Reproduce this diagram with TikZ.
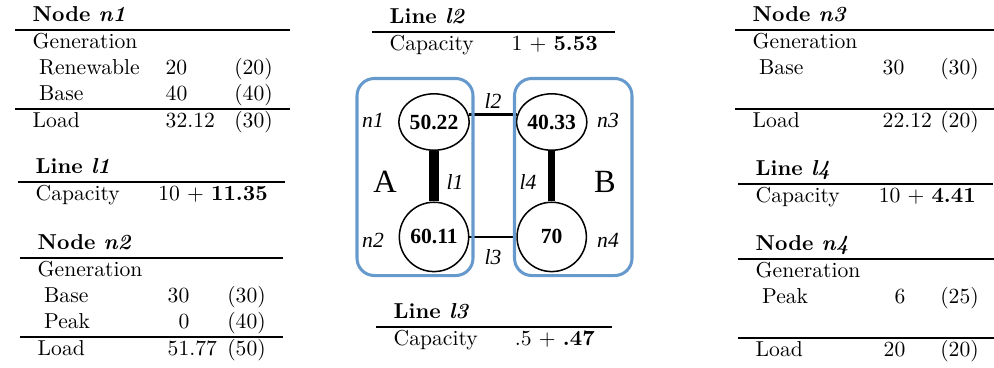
\documentclass[tikz,border=0pt]{standalone}
\usepackage{fontspec}
\usepackage{array}
\usetikzlibrary{positioning,shapes.geometric}
\newfontfamily\tnr{Liberation Serif}
\definecolor{grpblue}{HTML}{6699CC}
\newlength{\pu}\setlength{\pu}{0.463pt}
\newcolumntype{R}[1]{>{\raggedleft\arraybackslash}p{#1}}
\newcolumntype{L}[1]{>{\raggedright\arraybackslash}p{#1}}
\setlength{\arrayrulewidth}{0.6pt}
\newcommand{\ind}{\hspace*{3pt}}

\begin{document}
\begin{tikzpicture}[x=0.463pt, y=-0.463pt,
   tab/.style={anchor=north west,inner sep=0pt},
   topbus/.style={ellipse,draw,line width=0.7pt,minimum width=32.5pt,minimum height=26.1pt,inner sep=0pt,font=\tnr\bfseries},
   bus/.style={circle,draw,line width=0.7pt,minimum size=32.1pt,inner sep=0pt,font=\tnr\bfseries},
   lbl/.style={inner sep=0pt,font=\tnr\itshape},
   zone/.style={inner sep=0pt,font=\tnr\fontsize{15}{18}\selectfont},
   grp/.style={draw=grpblue,line width=1.4pt,rounded corners=8pt},
   tie/.style={line width=#1}]
  \useasboundingbox (0,0) rectangle (994,367);

  \node[tab] (tn1) at (15,3) {\begin{tabular}{@{\hspace{8pt}}L{133\pu}@{}L{55\pu}@{}R{52\pu}@{\hspace{8pt}}}
    \textbf{Node \textit{n1}} & & \\ \hline
    Generation & & \\
    \ind Renewable & 20 & (20) \\
    \ind Base & 40 & (40) \\ \hline
    Load & 32.12 & (30)
  \end{tabular}};
  \node[tab] (tl1) at (18,155) {\begin{tabular}{@{\hspace{8pt}}L{115\pu}@{}R{117\pu}@{\hspace{8pt}}}
    \textbf{Line \textit{l1}} & \\ \hline
    Capacity & 10 + \textbf{11.35}
  \end{tabular}};
  \node[tab] (tn2) at (20,231) {\begin{tabular}{@{\hspace{8pt}}L{130\pu}@{}L{50\pu}@{}R{48\pu}@{\hspace{8pt}}}
    \textbf{Node \textit{n2}} & & \\ \hline
    Generation & & \\
    \ind Base & 30 & (30) \\
    \ind Peak & \phantom{3}0 & (40) \\ \hline
    Load & 51.77 & (50)
  \end{tabular}};

  \node[tab] (tl2) at (372,5) {\begin{tabular}{@{\hspace{8pt}}L{119\pu}@{}R{89\pu}@{\hspace{8pt}}}
    \textbf{Line \textit{l2}} & \\ \hline
    Capacity & 1 + \textbf{5.53}
  \end{tabular}};
  \node[tab] (tl3) at (376,300) {\begin{tabular}{@{\hspace{8pt}}L{115\pu}@{}R{86\pu}@{\hspace{8pt}}}
    \textbf{Line \textit{l3}} & \\ \hline
    Capacity & .5 + \textbf{.47}
  \end{tabular}};

  \node[tab] (tn3) at (735,3) {\begin{tabular}{@{\hspace{8pt}}L{130\pu}@{}L{55\pu}@{}R{41\pu}@{\hspace{8pt}}}
    \textbf{Node \textit{n3}} & & \\ \hline
    Generation & & \\
    \ind Base & 30 & (30) \\
    & & \\ \hline
    Load & 22.12 & (20)
  \end{tabular}};
  \node[tab] (tl4) at (738,157) {\begin{tabular}{@{\hspace{8pt}}L{120\pu}@{}R{100\pu}@{\hspace{8pt}}}
    \textbf{Line \textit{l4}} & \\ \hline
    Capacity & 10 + \textbf{4.41}
  \end{tabular}};
  \node[tab] (tn4) at (738,232) {\begin{tabular}{@{\hspace{8pt}}L{128\pu}@{}L{55\pu}@{}R{40\pu}@{\hspace{8pt}}}
    \textbf{Node \textit{n4}} & & \\ \hline
    Generation & & \\
    \ind Peak & \phantom{0}6 & (25) \\
    & & \\ \hline
    Load & 20 & (20)
  \end{tabular}};

  \node[topbus] (n1) at (434,122) {50.22};
  \node[topbus,right=21.3pt of n1] (n3) {40.33};
  \node[bus,below=23.4pt of n1] (n2) {60.11};
  \node[bus,below=23.4pt of n3] (n4) {70};
  \draw[tie=4.6pt] (n1) -- (n2);
  \draw[tie=3.4pt] (n3) -- (n4);
  \draw[tie=1.5pt] (n1.12) -- (n3.168);
  \draw[tie=0.6pt] (n2) -- (n4);

  \node[lbl] (ln1) at (373,120) {n1};
  \node[lbl] (ln2) at (373,240) {n2};
  \node[lbl] (ln3) at (608,120) {n3};
  \node[lbl] (ln4) at (608,240) {n4};
  \node[lbl] (ll1) at (455,182) {l1};
  \node[lbl] (ll2) at (493,101) {l2};
  \node[lbl] (ll3) at (493,257) {l3};
  \node[lbl] (ll4) at (528,182) {l4};
  \node[zone] (za) at (385,182) {A};
  \node[zone] (zb) at (605,182) {B};

  \draw[grp] (357,78.5) rectangle (473,275.5);
  \draw[grp] (514.5,78.5) rectangle (632,275.5);
\end{tikzpicture}
\end{document}
